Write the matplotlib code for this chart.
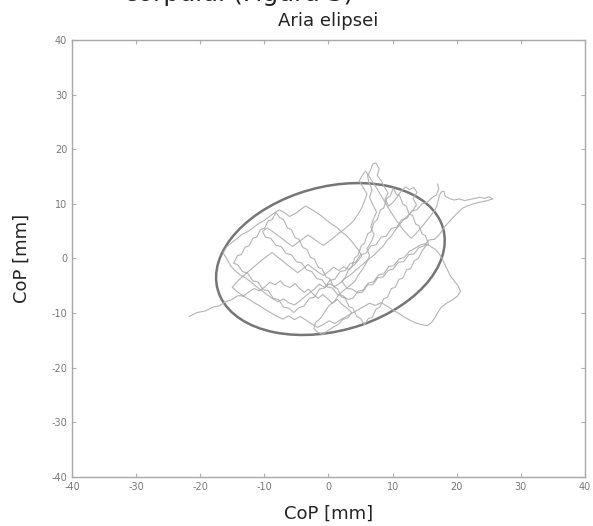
import numpy as np
import matplotlib.pyplot as plt
from matplotlib.patches import Ellipse

plt.rcParams['axes.unicode_minus'] = False

# CoP trajectory (mm)
cop_x = [-21.7, -20.5, -19.2, -18.0, -17.1, -16.0, -15.2, -14.1, -13.3, -12.4,
         -11.6, -10.8, -9.9, -9.2, -8.3, -7.5, -6.9, -6.0, -5.2, -4.6,
         -3.8, -3.1, -2.4, -1.6, -0.9, -0.1, 0.6, 1.4, 2.1, 2.9,
         3.6, 3.1, 2.2, 1.5, 0.7, -0.2, -0.9, -1.7, -2.3, -2.0,
         -1.2, -0.6, 0.1, 0.9, 1.5, 2.3, 3.2, 4.1, 4.6, 5.3,
         5.9, 6.4, 6.0, 6.7, 7.1, 6.6, 7.0, 7.5, 6.9, 6.4,
         6.8, 6.3, 6.1, 6.6, 6.9, 7.4, 7.9, 7.6, 8.2, 8.7,
         9.3, 8.8, 9.4, 10.1, 10.8, 11.4, 12.0, 12.6, 13.3, 13.8,
         13.2, 13.7, 13.1, 12.4, 11.7, 11.0, 10.4, 9.8, 9.1, 8.5,
         7.8, 7.1, 6.3, 5.5, 4.8, 4.0, 3.3, 2.5, 1.8, 1.0,
         0.2, -0.6, -1.4, -2.2, -3.0, -3.8, -4.5, -5.3, -6.2, -7.0,
         -7.9, -8.8, -9.6, -10.5, -11.3, -12.1, -12.9, -13.8, -14.6, -15.3,
         -15.8, -16.4, -15.9, -15.1, -14.3, -13.5, -12.6, -11.8, -11.0, -10.1,
         -9.3, -8.5, -7.7, -6.9, -6.1, -5.2, -4.4, -3.6, -2.8, -1.9,
         -1.1, -0.3, 0.5, 1.3, 2.0, 2.8, 3.5, 4.1, 4.7, 5.2,
         4.6, 3.9, 3.1, 2.4, 1.6, 0.8, 0.0, -0.8, -1.6, -2.4,
         -3.2, -4.0, -4.8, -5.6, -6.4, -7.2, -8.0, -8.8, -9.6, -10.4,
         -11.2, -12.0, -12.8, -13.6, -14.4, -15.0, -14.2, -13.4, -12.5, -11.6,
         -10.7, -9.8, -8.9, -8.0, -7.1, -6.2, -5.3, -4.4, -3.5, -2.6,
         -1.7, -0.8, 0.1, 1.0, 1.9, 2.8, 3.7, 4.6, 5.5, 6.4,
         7.3, 8.2, 9.1, 10.0, 10.9, 11.8, 12.7, 13.6, 14.5, 15.4,
         16.1, 16.6, 17.1, 17.6, 18.4, 19.3, 20.1, 20.6, 20.2, 19.6,
         19.0, 18.6, 18.2, 17.8, 17.3, 16.6, 15.8, 15.0, 14.2, 13.4,
         12.6, 11.8, 11.0, 10.2, 9.4, 8.6, 7.8, 7.0, 6.2, 5.4,
         4.6, 3.8, 3.0, 2.2, 1.4, 0.6, -0.2, -1.0, -1.8, -2.6,
         -3.4, -4.2, -5.0, -5.8, -6.6, -7.4, -8.2, -9.0, -9.8, -10.3,
         -9.6, -8.8, -8.0, -7.2, -6.4, -5.6, -4.8, -4.0, -3.2, -2.4,
         -1.6, -0.8, 0.0, 0.8, 1.6, 2.4, 3.2, 4.0, 4.6, 5.2,
         5.6, 6.0, 5.4, 4.8, 5.3, 5.8, 6.3, 6.9, 7.5, 8.1,
         8.7, 9.3, 9.9, 10.5, 11.1, 11.7, 12.3, 12.9, 13.5, 14.1,
         14.7, 15.3, 15.9, 16.5, 16.9, 17.1, 17.3, 17.6, 18.0, 18.2,
         18.8, 19.6, 20.4, 21.2, 22.0, 22.8, 23.6, 24.4, 25.0, 25.6,
         24.8, 24.0, 23.2, 22.4, 21.6, 20.9, 20.2, 19.5, 18.8, 18.1,
         17.3, 16.5, 15.7, 14.9, 14.1, 13.3, 12.5, 11.7, 10.9, 10.1,
         9.3, 8.5, 7.7, 6.9, 6.1, 5.3, 4.5, 3.7, 2.9, 2.1,
         2.6, 3.1, 3.6, 4.1, 4.6, 5.1, 5.6, 6.1, 6.6, 7.1,
         7.6, 8.1, 8.6, 9.1, 9.6, 10.1, 10.6, 11.1, 11.6, 12.1,
         12.6, 13.1, 13.6, 14.1, 14.6, 15.1, 15.6, 15.2, 14.6, 14.0,
         13.4, 12.8, 12.2, 11.6, 11.0, 10.4, 9.8, 9.2, 8.6, 8.0,
         7.4, 6.8, 6.2, 5.6, 5.0, 4.4, 3.8, 3.2, 2.6, 2.0,
         1.4, 0.8, 0.2, -0.4, -1.0, -1.6, -2.2, -2.8, -3.4, -4.0,
         -4.6, -5.2, -5.8, -6.4, -7.0, -7.6, -8.2, -8.8, -9.4, -10.0,
         -10.6, -11.2, -11.8, -12.4, -13.0, -13.6, -14.2, -14.8, -14.2, -13.4,
         -12.6, -11.8, -11.0, -10.2, -9.4, -8.6, -7.8, -7.0, -6.2, -5.4,
         -4.6, -3.8, -3.0, -2.2, -1.4, -0.6, 0.2, 1.0, 1.8, 2.6,
         3.4, 4.2, 5.0, 5.8, 6.6, 7.4, 8.2, 9.0, 9.8, 10.6,
         11.4, 12.2, 13.0, 13.8, 14.6, 15.4, 16.2, 16.8, 17.2, 17.0]
cop_y = [-10.6, -9.9, -9.6, -8.9, -8.7, -7.9, -7.6, -6.8, -6.9, -6.1,
         -5.5, -5.9, -5.2, -4.4, -4.8, -4.1, -4.9, -5.3, -4.6, -5.4,
         -6.2, -5.6, -6.5, -7.3, -6.6, -7.4, -8.2, -7.5, -8.4, -9.1,
         -9.9, -10.8, -11.2, -12.1, -12.6, -13.3, -13.9, -13.5, -12.8, -11.7,
         -10.9, -9.8, -8.6, -7.9, -6.8, -5.9, -5.1, -4.2, -3.1, -2.0,
         -0.8, 0.5, 1.8, 3.1, 4.4, 5.8, 7.2, 8.5, 9.9, 11.2,
         12.6, 13.9, 15.1, 16.3, 17.3, 17.5, 16.4, 15.2, 14.3, 13.1,
         12.0, 10.8, 9.6, 10.3, 11.4, 12.4, 13.1, 12.6, 13.0, 12.1,
         11.0, 9.8, 8.7, 7.9, 7.1, 6.0, 5.2, 4.1, 3.3, 2.2,
         1.5, 0.6, -0.1, -0.9, -1.6, -2.4, -3.1, -3.7, -4.5, -5.1,
         -4.6, -5.3, -4.7, -5.6, -6.3, -7.1, -7.8, -8.5, -8.1, -7.4,
         -7.9, -7.3, -6.6, -5.8, -5.1, -4.3, -3.6, -3.0, -2.2, -1.3,
         -0.2, 1.0, 2.1, 2.9, 3.6, 4.4, 4.9, 5.6, 6.3, 6.9,
         7.6, 8.3, 8.9, 8.4, 7.7, 8.2, 8.9, 9.6, 9.1, 8.4,
         7.8, 7.0, 6.3, 5.7, 4.9, 4.2, 3.3, 2.4, 1.5, 0.5,
         -0.4, -1.3, -2.0, -1.5, -2.2, -1.6, -2.4, -3.1, -2.5, -1.8,
         -1.1, -1.9, -2.6, -1.9, -1.2, -0.4, 0.3, 1.1, 0.4, -0.3,
         -1.1, -1.9, -2.7, -3.5, -4.4, -5.3, -6.1, -6.8, -7.4, -8.1,
         -8.7, -9.4, -10.0, -10.6, -11.1, -10.5, -11.2, -10.6, -11.3, -12.0,
         -12.6, -12.1, -11.4, -11.9, -11.2, -10.6, -10.0, -9.4, -8.8, -8.2,
         -8.6, -8.1, -8.7, -9.4, -10.0, -10.7, -11.3, -11.8, -12.1, -12.3,
         -11.7, -10.8, -9.8, -8.9, -8.2, -7.6, -6.9, -6.0, -5.0, -4.1,
         -3.2, -2.2, -1.2, -0.2, 0.8, 1.7, 2.3, 2.7, 2.4, 1.8,
         1.3, 0.2, -0.1, -1.3, -1.5, -2.8, -3.0, -4.3, -4.5, -5.8,
         -6.0, -7.3, -7.5, -6.8, -6.6, -5.4, -5.2, -3.9, -3.7, -2.4,
         -2.1, -0.8, -0.6, 0.7, 0.9, 2.2, 2.4, 3.7, 3.9, 4.9,
         5.6, 5.0, 4.3, 3.6, 2.9, 2.2, 2.9, 3.6, 4.3, 3.7,
         3.0, 2.4, 3.1, 3.8, 4.6, 5.3, 6.1, 7.0, 8.1, 9.3,
         10.5, 11.8, 13.0, 14.2, 15.3, 16.0, 15.1, 14.0, 12.9, 11.7,
         10.5, 9.3, 8.2, 7.1, 6.1, 5.2, 4.4, 3.7, 4.4, 5.2,
         6.0, 6.9, 7.8, 8.7, 9.6, 10.6, 11.6, 12.2, 12.3, 11.4,
         11.0, 10.7, 10.9, 10.6, 10.8, 11.0, 11.2, 11.0, 11.3, 10.9,
         10.6, 10.4, 10.2, 9.9, 9.6, 9.2, 8.4, 7.6, 6.7, 5.8,
         4.4, 3.5, 3.4, 2.3, 2.0, 0.8, 0.7, -0.6, -0.7, -1.9,
         -2.2, -3.4, -3.5, -4.8, -4.8, -6.2, -6.3, -5.6, -5.5, -4.2,
         -3.5, -2.1, -1.6, 0.1, 0.6, 2.3, 2.8, 4.5, 4.9, 6.6,
         7.1, 8.9, 9.2, 11.0, 11.4, 12.9, 11.7, 11.5, 9.9, 9.6,
         8.1, 7.9, 6.3, 6.0, 4.5, 4.2, 2.7, 2.3, 1.4, 0.0,
         -0.4, -1.9, -2.0, -3.6, -3.8, -5.3, -5.5, -7.1, -7.4, -8.9,
         -9.3, -10.8, -11.0, -12.1, -11.0, -10.6, -9.1, -8.8, -7.3, -7.0,
         -5.5, -5.2, -3.7, -3.4, -1.9, -1.6, -0.1, 0.2, 1.7, 2.0,
         3.5, 3.8, 5.3, 5.6, 7.1, 7.5, 8.4, 7.1, 6.9, 5.5,
         5.3, 3.9, 3.7, 2.3, 2.1, 0.7, 0.5, -0.9, -1.1, -2.4,
         -2.7, -4.1, -4.3, -5.7, -5.9, -7.3, -7.5, -8.9, -9.1, -9.9,
         -9.0, -8.7, -7.3, -7.1, -5.6, -5.4, -4.0, -3.8, -2.4, -2.2,
         -0.9, -0.7, 0.7, 0.9, 2.3, 2.5, 3.9, 4.1, 5.5, 5.7,
         7.1, 7.3, 8.7, 8.9, 10.0, 10.3, 11.2, 11.6, 12.8, 13.6]

# confidence ellipse (mm, degrees)
ell_center = (0.3, -0.1)
ell_a = 18.5
ell_b = 13.0
ell_angle = 22

xticks = np.arange(-40, 41, 10)
yticks = np.arange(-40, 41, 10)

fig = plt.figure(figsize=(5.93, 5.26), dpi=100)
ax = fig.add_axes([0.1214, 0.0932, 0.8651, 0.8308])

ax.plot(cop_x, cop_y, color='#b4b4b4', lw=0.8)
ax.add_patch(Ellipse(ell_center, 2 * ell_a, 2 * ell_b, angle=ell_angle,
                     fill=False, edgecolor='#767676', lw=1.8))

ax.set_xlim(-40, 40)
ax.set_ylim(-40, 40)
ax.set_xticks(xticks)
ax.set_yticks(yticks)
ax.tick_params(direction='in', length=3, width=0.8, color='#b0b0b0',
               labelcolor='#777777', labelsize=7, top=True, right=True)
for s in ax.spines.values():
    s.set_color('#a8a8a8')
    s.set_linewidth(1.0)

ax.set_title('Aria elipsei', fontsize=13, color='#222222', pad=10)
ax.set_xlabel('CoP [mm]', fontsize=13, color='#222222', labelpad=9)
ax.set_ylabel('CoP [mm]', fontsize=13, color='#222222', labelpad=15)

# leftover line of document text above the chart, only its bottom edge shows
fig.text(0.209, 0.9985, 'corpului (Figura 3)', fontsize=18, color='#222222', va='baseline')

fig.savefig('out.png', dpi=100)
